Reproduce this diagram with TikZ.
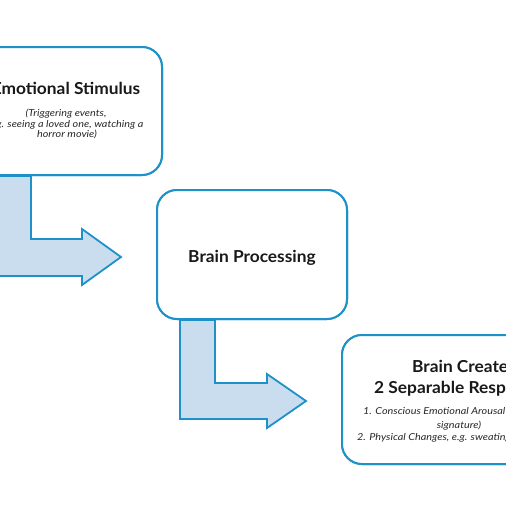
\documentclass[tikz,border=0pt]{standalone}
\usepackage{fontspec}
\setmainfont{Lato}
\newfontfamily\ttlfont{Lato}[FakeStretch=1.05]
\newfontfamily\smlfont{Lato}[FakeStretch=1.13]
\usetikzlibrary{calc}
\definecolor{bordblue}{RGB}{30,145,200}
\definecolor{fillblue}{RGB}{201,221,239}
\definecolor{txtgray}{RGB}{40,40,40}
\tikzset{
  boxnode/.style={draw=bordblue, line width=2pt, rounded corners=20pt, fill=white, inner sep=0pt},
  blockarrow/.style={draw=bordblue, fill=fillblue, line width=1.8pt, line join=miter},
  titletext/.style={font=\ttlfont\bfseries\fontsize{16.5}{20}\selectfont, text=black!90, inner sep=0pt, anchor=base},
  smalltext/.style={font=\smlfont\itshape\fontsize{9.6}{11}\selectfont, text=txtgray, inner sep=0pt, anchor=base}
}
\begin{document}
\begin{tikzpicture}[x=1pt,y=-1pt]
\useasboundingbox (0,0) rectangle (506,506);
\clip (0,0) rectangle (506,506);
\fill[white] (0,0) rectangle (506,506);
% boxes (positioned first so arrows can refer to them)
\path node[boxnode, minimum width=194pt, minimum height=128pt] (b1) at (65,111) {};
\path node[boxnode, minimum width=190pt, minimum height=129pt] (b2) at (252,254.5) {};
\path node[boxnode, minimum width=236pt, minimum height=129pt] (b3) at (460,399.5) {};
% bent block arrows from box to box
\draw[blockarrow] ($(b1.south west)+(27,0)$) coordinate (a1s) -- ++(37,0) |- (82,239) -- (82,229) -- (121,257) -- (82,285) -- (82,276) -| (a1s) -- cycle;
\draw[blockarrow] ($(b2.south west)+(24,0)$) coordinate (a2s) -- ++(35,0) |- (267,383) -- (267,374) -- (306,401) -- (267,428) -- (267,419) -| (a2s) -- cycle;
% redraw boxes on top
\path node[boxnode, minimum width=194pt, minimum height=128pt] at (b1.center) {};
\path node[boxnode, minimum width=190pt, minimum height=129pt] at (b2.center) {};
\path node[boxnode, minimum width=236pt, minimum height=129pt] at (b3.center) {};
% texts
\node[titletext] (t1) at (66,94) {Emotional Stimulus};
\node[smalltext] (s1a) at (66,116) {(Triggering events,};
\node[smalltext] (s1b) at (66,127) {e.g. seeing a loved one, watching a};
\node[smalltext] (s1c) at (67,137.5) {horror movie)};
\node[titletext] (t2) at (252,262) {Brain Processing};
\node[titletext, anchor=base west] (t3a) at (412,372) {Brain Creates};
\node[titletext, anchor=base west] (t3b) at (374,393) {2 Separable Responses};
\node[smalltext, anchor=base west] (s3a) at (363,414) {1. Conscious Emotional Arousal};
\node[smalltext] (s3b) at (459,428) {signature)};
\node[smalltext, anchor=base west] (s3c) at (357,440) {2. Physical Changes, e.g. sweating};
\end{tikzpicture}
\end{document}
